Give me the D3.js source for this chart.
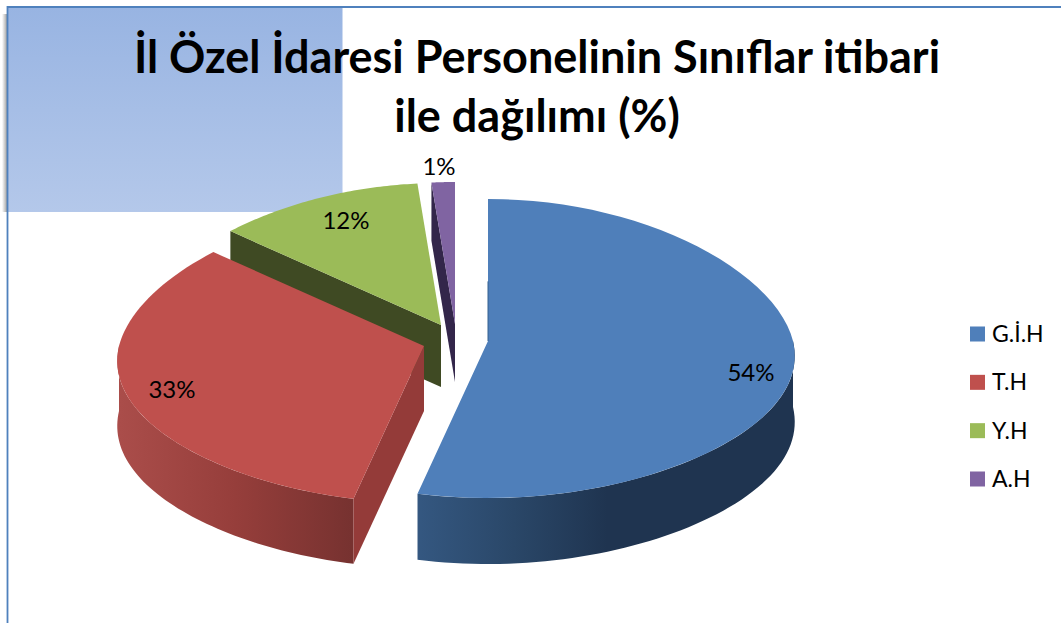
<!DOCTYPE html>
<html><head><meta charset="utf-8">
<script src="https://cdnjs.cloudflare.com/ajax/libs/d3/7.8.5/d3.min.js"></script>
<style>html,body{margin:0;padding:0;background:#fff;overflow:hidden}svg{display:block}text{font-family:Lato,"Open Sans",sans-serif;fill:#000}</style>
</head><body><div id="chart"></div>
<script>
const categories = ["G.İ.H","T.H","Y.H","A.H"];
const values = [53.7,32.8,12.1,1.4];
const titleLines = ["İl Özel İdaresi Personelinin Sınıflar itibari","ile dağılımı (%)"];

(function(){
const topColors = ["#4f7fba","#bf504d","#9bbb58","#8064a2"];
const wallColors = ["#1f3652","#943b39","#3f4a23","#33264a"];
const apexes = [[488,341],[424,346],[441,325],[455,324]];
const depths = [66,65,62,58];
const labelPos = [[751,373],[172,390],[346,221],[439,167]];
const W=1061,H=623,RX=305,RB=142,RF=157,K=0.12;
const svg=d3.select("#chart").append("svg").attr("width",W).attr("height",H);
const defs=svg.append("defs");
const g1=defs.append("linearGradient").attr("id","bg").attr("x1",0).attr("x2",0).attr("y1",0).attr("y2",1);
g1.append("stop").attr("offset",0).attr("stop-color","#98b4e2");
g1.append("stop").attr("offset",1).attr("stop-color","#b4c8ea");
const g2=defs.append("linearGradient").attr("id","sh").attr("x1",0).attr("x2",1);
g2.append("stop").attr("offset",0).attr("stop-color","#fff");
g2.append("stop").attr("offset",1).attr("stop-color","#8e8e8e");
const gb=defs.append("linearGradient").attr("id","wall0").attr("gradientUnits","userSpaceOnUse").attr("x1",420).attr("x2",795).attr("y1",0).attr("y2",0);
[[0,"#345780"],[.25,"#2a4768"],[.5,"#1f3450"],[1,"#1f3450"]].forEach(s=>gb.append("stop").attr("offset",s[0]).attr("stop-color",s[1]));
const gr=defs.append("linearGradient").attr("id","wall1").attr("gradientUnits","userSpaceOnUse").attr("x1",120).attr("x2",351).attr("y1",0).attr("y2",0);
[[0,"#aa4d4a"],[.5,"#963e3b"],[1,"#773230"]].forEach(s=>gr.append("stop").attr("offset",s[0]).attr("stop-color",s[1]));

svg.append("rect").attr("x",2).attr("y",14).attr("width",6).attr("height",198).attr("fill","url(#sh)");
svg.append("rect").attr("x",8).attr("y",8).attr("width",334.5).attr("height",204).attr("fill","url(#bg)");
svg.append("path").attr("d",`M7.5,${H}V7H${W}`).attr("fill","none").attr("stroke","#4f81bd").attr("stroke-width",1.8);

titleLines.forEach((t,i)=>svg.append("text").attr("x",537).attr("y",[73,132][i]).attr("text-anchor","middle")
  .attr("font-size",45).attr("font-weight",700).text(t));

const arcs=d3.pie().sort(null)(values);
const proj=(a,t)=>{
  const c=Math.cos(t), ry=c>0?RB:RF, f=c>=0?1-K*c:1-K*c*(1+c);
  return [a[0]+RX*Math.sin(t)*f, a[1]-ry*c];
};
const line=d3.line();
const sample=(a,t0,t1,dy=0)=>d3.range(0,61).map(i=>{const p=proj(a,t0+(t1-t0)*i/60);return [p[0],p[1]+dy]});
const face=i=>{const a=apexes[i],d=arcs[i];return line([a,...sample(a,d.startAngle,d.endAngle)])+"Z"};
const cut=(i,t)=>{const a=apexes[i],p=proj(a,t),h=depths[i];return line([a,p,[p[0],p[1]+h],[a[0],a[1]+h]])+"Z"};
const outer=(i,t0,t1)=>line([...sample(apexes[i],t0,t1),...sample(apexes[i],t1,t0,depths[i])])+"Z";
const PI=Math.PI;

[3,2,1,0].forEach(i=>{
  const d=arcs[i];
  if(i>=2) svg.append("path").attr("d",cut(i,d.startAngle)).attr("fill",wallColors[i]);
  if(i===1){
    svg.append("path").attr("d",outer(1,d.startAngle,1.5*PI)).attr("fill","url(#wall1)");
    svg.append("path").attr("d",cut(1,d.startAngle)).attr("fill",wallColors[1]);
  }
  if(i===0) svg.append("path").attr("d",outer(0,PI/2,d.endAngle)).attr("fill","url(#wall0)");
  svg.append("path").attr("d",face(i)).attr("fill",topColors[i]);
});
svg.append("line").attr("x1",apexes[0][0]).attr("x2",apexes[0][0]).attr("y1",apexes[0][1]).attr("y2",apexes[0][1]-RB*0.42)
  .attr("stroke","#35608f").attr("stroke-width",1);

labelPos.forEach((p,i)=>svg.append("text").attr("x",p[0]).attr("y",p[1]+8).attr("text-anchor","middle")
  .attr("font-size",24).text(d3.format(".0f")(values[i])+"%"));

const ly=d3.scalePoint().domain(categories).range([334,479]);
categories.forEach((c,i)=>{
  svg.append("rect").attr("x",970).attr("y",ly(c)-7.5).attr("width",15).attr("height",15).attr("fill",topColors[i]);
  svg.append("text").attr("x",992).attr("y",ly(c)+8).attr("font-size",23).text(c);
});
})();
</script></body></html>
